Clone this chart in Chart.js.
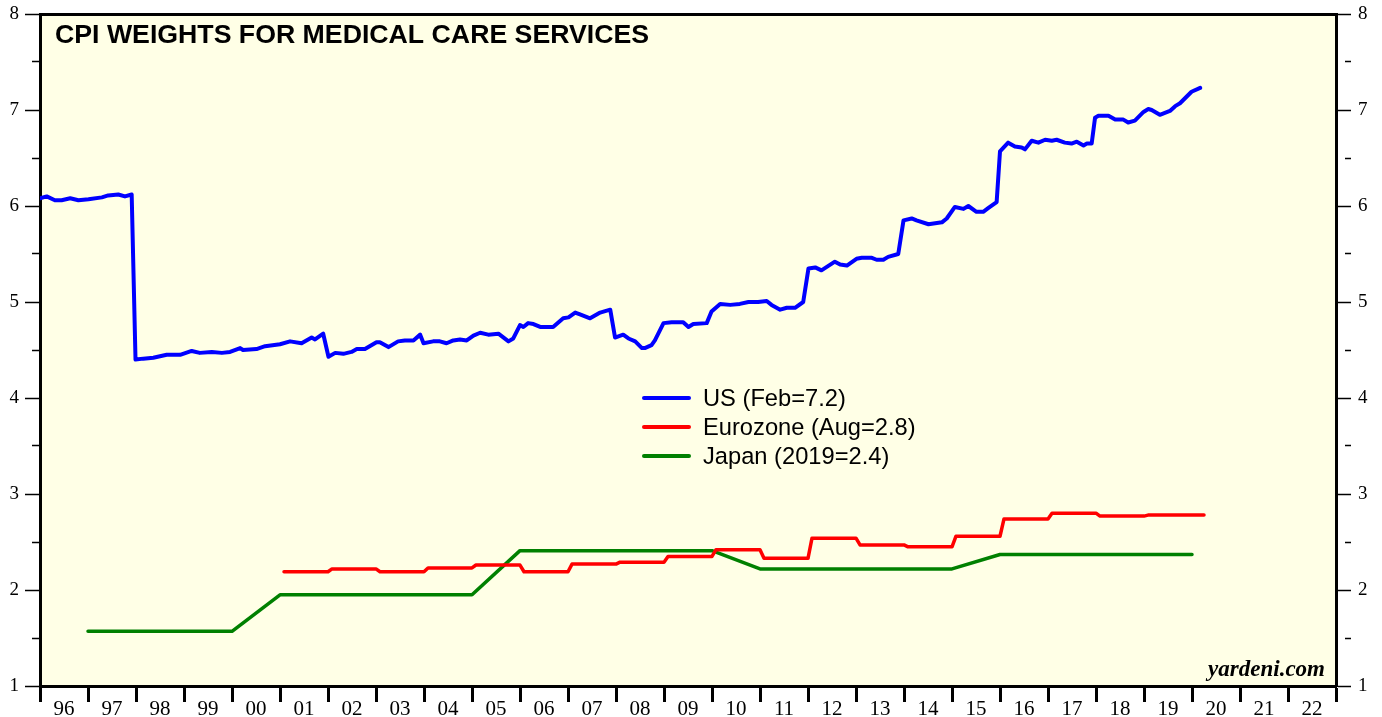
<!DOCTYPE html>
<html><head><meta charset="utf-8">
<script src="https://cdn.jsdelivr.net/npm/chart.js@4.4.0/dist/chart.umd.min.js"></script>
<style>html,body{margin:0;padding:0;background:#fff;overflow:hidden}#wrap{position:relative;width:1382px;height:717px}</style>
</head><body><div id="wrap"><canvas id="c" width="1382" height="717"></canvas></div>
<script>
const chartTitle = 'CPI WEIGHTS FOR MEDICAL CARE SERVICES';
const sourceNote = 'yardeni.com';
const firstYear = 1996;
const lastYearEnd = 2023;
const xTickLabels = ['96','97','98','99','00','01','02','03','04','05','06','07','08','09','10','11','12','13','14','15','16','17','18','19','20','21','22'];
const yMin = 1, yMax = 8;
const yTickLabels = ['1','2','3','4','5','6','7','8'];

const usLabel = 'US (Feb=7.2)';
const usDates = [
  1996.00,1996.14,1996.31,1996.45,1996.63,1996.80,
  1997.01,1997.29,1997.42,1997.63,1997.77,1997.91,1997.99,
  1998.15,1998.36,1998.64,1998.92,
  1999.16,1999.33,1999.58,1999.79,1999.96,
  2000.17,2000.23,2000.51,2000.69,
  2001.00,2001.21,2001.45,2001.66,2001.73,2001.90,
  2002.01,2002.15,2002.32,2002.49,2002.60,2002.77,
  2003.01,2003.08,2003.26,2003.46,2003.60,2003.78,2003.92,2003.99,
  2004.19,2004.33,2004.47,2004.61,2004.75,2004.89,
  2005.03,2005.17,2005.34,2005.55,2005.76,2005.86,
  2006.00,2006.07,2006.17,2006.28,2006.42,2006.69,2006.90,
  2007.01,2007.15,2007.25,2007.46,2007.67,2007.88,2007.98,
  2008.15,2008.26,2008.40,2008.54,2008.60,2008.74,2008.81,2008.99,
  2009.16,2009.40,2009.51,2009.61,2009.89,2009.99,
  2010.17,2010.38,2010.58,2010.76,2010.96,
  2011.14,2011.24,2011.42,2011.56,2011.73,2011.90,
  2012.01,2012.15,2012.28,2012.56,2012.67,2012.81,
  2013.01,2013.12,2013.33,2013.43,2013.57,2013.67,2013.88,2013.99,
  2014.16,2014.26,2014.51,2014.79,2014.89,
  2015.06,2015.24,2015.34,2015.51,2015.65,2015.76,2015.93,
  2016.00,2016.17,2016.31,2016.45,2016.52,2016.66,2016.80,2016.94,
  2017.08,2017.18,2017.35,2017.49,2017.60,2017.74,2017.81,2017.91,2017.98,
  2018.05,2018.26,2018.40,2018.57,2018.67,2018.81,2018.99,
  2019.09,2019.16,2019.33,2019.54,2019.65,2019.75,2019.99,
  2020.17
];
const usValues = [
  6.08,6.10,6.06,6.06,6.08,6.06,
  6.07,6.09,6.11,6.12,6.10,6.12,4.40,
  4.41,4.42,4.45,4.45,
  4.49,4.47,4.48,4.47,4.48,
  4.52,4.50,4.51,4.54,
  4.56,4.59,4.57,4.63,4.61,4.67,
  4.43,4.47,4.46,4.48,4.51,4.51,
  4.58,4.58,4.53,4.59,4.60,4.60,4.66,4.57,
  4.59,4.59,4.57,4.60,4.61,4.60,
  4.65,4.68,4.66,4.67,4.59,4.62,
  4.76,4.74,4.78,4.77,4.74,4.74,4.83,
  4.84,4.89,4.87,4.83,4.89,4.92,4.63,
  4.66,4.62,4.59,4.52,4.52,4.55,4.60,4.78,
  4.79,4.79,4.74,4.77,4.78,4.90,
  4.98,4.97,4.98,5.00,5.00,
  5.01,4.97,4.92,4.94,4.94,5.00,
  5.35,5.36,5.33,5.42,5.39,5.38,
  5.45,5.46,5.46,5.44,5.44,5.47,5.50,5.85,
  5.87,5.85,5.81,5.83,5.87,
  5.99,5.97,6.00,5.94,5.94,5.98,6.04,
  6.57,6.66,6.62,6.61,6.59,6.68,6.66,6.69,
  6.68,6.69,6.66,6.65,6.67,6.63,6.65,6.65,6.92,
  6.94,6.94,6.90,6.90,6.87,6.89,6.98,
  7.01,7.00,6.95,6.99,7.04,7.07,7.19,
  7.23
];

const euroLabel = 'Eurozone (Aug=2.8)';
const euroYears = [2001,2002,2003,2004,2005,2006,2007,2008,2009,2010,2011,2012,2013,2014,2015,2016,2017,2018,2019,2020];
const euroValues = [2.19,2.22,2.19,2.23,2.26,2.19,2.27,2.29,2.35,2.42,2.33,2.54,2.47,2.45,2.56,2.74,2.80,2.77,2.78,2.78];
const euroMonthsLastYear = 3;

const japanLabel = 'Japan (2019=2.4)';
const japanYears = [1996,1997,1998,1999,2000,2001,2002,2003,2004,2005,2006,2007,2008,2009,2010,2011,2012,2013,2014,2015,2016,2017,2018,2019];
const japanValues = [1.57,1.57,1.57,1.57,1.95,1.95,1.95,1.95,1.95,2.41,2.41,2.41,2.41,2.41,2.22,2.22,2.22,2.22,2.22,2.37,2.37,2.37,2.37,2.37];

// build point lists (annual values plotted at year end, monthly steps Jan..Dec)
const usPoints = usDates.map((d, i) => ({x: d, y: usValues[i]}));
const euroPoints = [];
euroYears.forEach((yr, i) => {
  const lastM = (i === euroYears.length - 1) ? euroMonthsLastYear : 12;
  euroPoints.push({x: yr + 1/12, y: euroValues[i]});
  euroPoints.push({x: yr + lastM/12, y: euroValues[i]});
});
const japanPoints = japanYears.map((yr, i) => ({x: yr + 1, y: japanValues[i]}));

Chart.defaults.font.family = 'Liberation Serif';
Chart.defaults.color = '#000';

const bgPlugin = {
  id: 'bg',
  beforeDraw(chart) {
    const {ctx, chartArea: a} = chart;
    ctx.save();
    ctx.fillStyle = '#FFFFE6';
    ctx.fillRect(a.left, a.top, a.right - a.left, a.bottom - a.top);
    ctx.restore();
  }
};
const textPlugin = {
  id: 'texts',
  afterDraw(chart) {
    const {ctx, chartArea: a} = chart;
    ctx.save();
    ctx.fillStyle = '#000';
    ctx.textBaseline = 'alphabetic';
    ctx.font = 'bold 26.7px "Liberation Sans"';
    ctx.textAlign = 'left';
    ctx.fillText(chartTitle, a.left + 15, a.top + 29);
    ctx.font = 'italic bold 23px "Liberation Serif"';
    ctx.textAlign = 'right';
    ctx.fillText(sourceNote, a.right - 11, a.bottom - 10);
    // legend
    ctx.font = '23.7px "Liberation Sans"';
    ctx.textAlign = 'left';
    ctx.textBaseline = 'middle';
    chart.data.datasets.forEach((ds, i) => {
      const y = 398 + i * 29;
      ctx.strokeStyle = ds.borderColor;
      ctx.lineWidth = 4;
      ctx.lineCap = 'round';
      ctx.beginPath(); ctx.moveTo(644, y); ctx.lineTo(689, y); ctx.stroke();
      ctx.fillStyle = '#000';
      ctx.fillText(ds.label, 703, y + 1);
    });
    ctx.restore();
  }
};

const isInt = v => Math.abs(v - Math.round(v)) < 1e-6;
function yAxis(pos, width) {
  return {
    type: 'linear', position: pos, min: yMin, max: yMax,
    afterBuildTicks(s) {
      const t = [];
      for (let v = yMin; v <= yMax + 1e-9; v += 0.5) t.push({value: v});
      s.ticks = t;
    },
    afterFit(s) { s.width = width; s.paddingTop = 0; s.paddingBottom = 0; },
    ticks: {
      autoSkip: false,
      padding: pos === 'left' ? 6 : 7,
      font: {size: 19, family: 'Liberation Serif'},
      color: '#000',
      callback: v => isInt(v) ? yTickLabels[Math.round(v) - yMin] : ''
    },
    grid: {
      drawOnChartArea: false, drawTicks: true, tickLength: 15,
      tickWidth: 1.5, tickColor: '#000',
      tickBorderDash: ctx => isInt(ctx.tick.value) ? [] : [0, 7, 8, 100]
    },
    border: {display: true, color: '#000', width: 3}
  };
}

new Chart(document.getElementById('c'), {
  type: 'line',
  data: {
    datasets: [
      {label: usLabel, data: usPoints, borderColor: '#0000FF', borderWidth: 4},
      {label: euroLabel, data: euroPoints, borderColor: '#FF0000', borderWidth: 3.5},
      {label: japanLabel, data: japanPoints, borderColor: '#008000', borderWidth: 3.5}
    ]
  },
  options: {
    responsive: false, animation: false, devicePixelRatio: 1,
    layout: {padding: 0},
    elements: {
      point: {radius: 0, hoverRadius: 0},
      line: {tension: 0, borderJoinStyle: 'round', borderCapStyle: 'round', fill: false}
    },
    plugins: {legend: {display: false}, tooltip: {enabled: false}, title: {display: false}},
    events: [],
    scales: {
      x: {
        type: 'linear', position: 'bottom', min: firstYear, max: lastYearEnd,
        afterBuildTicks(s) {
          const t = [];
          for (let i = 0; i <= xTickLabels.length; i++) {
            t.push({value: firstYear + i});
            if (i < xTickLabels.length) t.push({value: firstYear + i + 0.5});
          }
          s.ticks = t;
        },
        afterFit(s) { s.height = 31; s.paddingLeft = 0; s.paddingRight = 0; },
        ticks: {
          autoSkip: false, maxRotation: 0, minRotation: 0, padding: -5,
          font: {size: 21, family: 'Liberation Serif'}, color: '#000',
          callback: v => isInt(v) ? '' : xTickLabels[Math.floor(v) - firstYear]
        },
        grid: {
          drawOnChartArea: false, drawTicks: true, tickLength: 16, tickWidth: 3,
          tickColor: ctx => isInt(ctx.tick.value) ? '#000' : 'rgba(0,0,0,0)'
        },
        border: {display: true, color: '#000', width: 3}
      },
      xTop: {
        type: 'linear', position: 'top', min: firstYear, max: lastYearEnd,
        afterFit(s) { s.height = 14; s.paddingLeft = 0; s.paddingRight = 0; },
        ticks: {display: false},
        grid: {drawOnChartArea: false, drawTicks: false},
        border: {display: true, color: '#000', width: 3}
      },
      y: yAxis('left', 40),
      yRight: yAxis('right', 46)
    }
  },
  plugins: [bgPlugin, textPlugin]
});
</script></body></html>
